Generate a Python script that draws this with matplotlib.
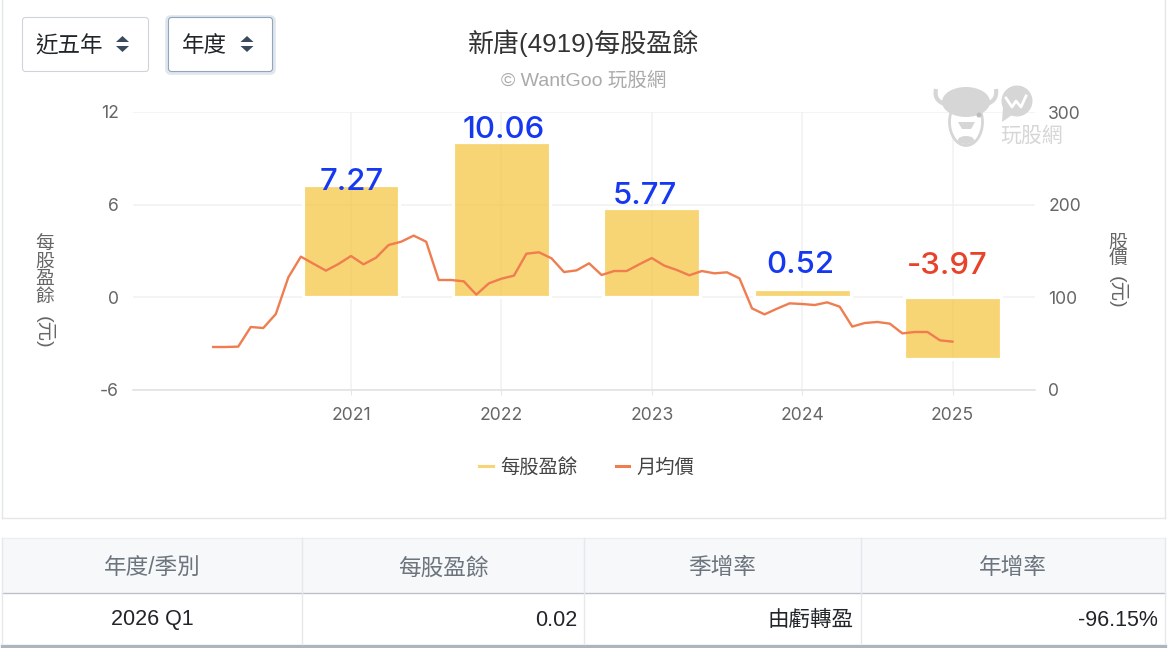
import matplotlib
matplotlib.use("Agg")
import matplotlib.pyplot as plt
import numpy as np
from matplotlib.lines import Line2D
from matplotlib.patches import Rectangle, FancyBboxPatch, Ellipse, Circle, Polygon, PathPatch
from matplotlib.path import Path

plt.rcParams['font.family'] = ['Liberation Sans', 'Noto Sans CJK TC', 'DejaVu Sans']
plt.rcParams['axes.unicode_minus'] = False
NUM_FONT = ['Inter', 'Liberation Sans', 'DejaVu Sans']

years = [2021, 2022, 2023, 2024, 2025]
eps = [7.27, 10.06, 5.77, 0.52, -3.97]
eps_labels = ['7.27', '10.06', '5.77', '0.52', '-3.97']
first_month = 2020 + 1 / 12
prices = [46.4, 46.4, 46.8, 68.0, 66.9, 82.0, 121.6, 143.9, 136.3, 128.8, 136.0, 144.6,
          135.6, 142.8, 156.5, 160.0, 166.6, 160.0, 118.7, 118.7, 117.3, 102.9, 115.1, 120.1,
          123.4, 147.1, 148.6, 142.1, 127.3, 129.1, 136.7, 124.1, 128.4, 128.4, 135.6, 142.4,
          134.2, 129.5, 123.8, 128.4, 125.9, 127.0, 120.5, 88.1, 81.6, 87.8, 93.5, 92.8,
          91.7, 94.6, 89.9, 68.4, 72.3, 73.4, 71.6, 61.1, 62.6, 62.6, 53.6, 52.2]
month_x = [first_month + i / 12 for i in range(len(prices))]

left_ticks = [-6, 0, 6, 12]
right_ticks = [0, 100, 200, 300]

table_headers = ['年度/季別', '每股盈餘', '季增率', '年增率']
table_row = ['2026 Q1', '0.02', '由虧轉盈', '-96.15%']

W, H = 1172, 648
BAR = '#f5c747'
LINE = '#ef7d50'
GRID = '#f1f1f1'
TICK = '#666666'

fig = plt.figure(figsize=(W / 100, H / 100), dpi=100, facecolor='white')

# page furniture, in pixel coordinates
bg = fig.add_axes([0, 0, 1, 1], zorder=0)
bg.set_xlim(0, W); bg.set_ylim(H, 0); bg.axis('off')
card = '#e4e6ea'
bg.plot([2, 2], [0, 518], color=card, lw=1)
bg.plot([1165, 1165], [0, 518], color=card, lw=1)
bg.plot([2, 1165], [518, 518], color=card, lw=1)

def box(x0, y0, x1, y1, ec, lw=0.8):
    bg.add_patch(FancyBboxPatch((x0 + 3, y0 + 3), x1 - x0 - 6, y1 - y0 - 6,
                                boxstyle='round,pad=3,rounding_size=3',
                                fc='white', ec=ec, lw=lw))

box(22.5, 17.5, 148.5, 71.5, '#ced4da')
bg.add_patch(FancyBboxPatch((169, 19), 103, 52, boxstyle='round,pad=2,rounding_size=4',
                            fc='none', ec='#e1e5ec', lw=2.6))
box(168.5, 17.5, 272.5, 71.5, '#8ea6c2')
for cx in (122.5, 247):
    bg.add_patch(Polygon([[cx - 6.5, 42], [cx + 6.5, 42], [cx, 36]], fc='#3b4a5c', ec='none'))
    bg.add_patch(Polygon([[cx - 6.5, 46], [cx + 6.5, 46], [cx, 52]], fc='#3b4a5c', ec='none'))
bg.text(35.5, 47, '近五年', fontsize=16.2, color='#212529', va='center')
bg.text(182, 47, '年度', fontsize=16.2, color='#212529', va='center')

bg.text(583, 43, '新唐(4919)每股盈餘', fontsize=18.7, color='#333333', ha='center', va='center')
bg.text(583.5, 81, '© WantGoo 玩股網', fontsize=14, color='#aaaaaa', ha='center', va='center')

bg.text(45, 271, '每\n股\n盈\n餘', fontsize=13.5, color=TICK, ha='center', va='center', linespacing=1.04)
bg.text(44.5, 332, '(元)', fontsize=14, color=TICK, ha='center', va='center', rotation=-90)
bg.text(1118, 252, '股\n價', fontsize=13.5, color=TICK, ha='center', va='center', linespacing=1.04)
bg.text(1117.5, 292.5, '(元)', fontsize=14, color=TICK, ha='center', va='center', rotation=-90)

# table
col_x = [2, 302, 584, 861, 1165]
bg.add_patch(Rectangle((2, 538), 1163, 54.5, fc='#f7f8fa', ec='none'))
bg.plot([2, 1165], [538, 538], color='#eceef1', lw=1)
bg.plot([2, 1165], [592.5, 592.5], color='#bcc1c9', lw=1)
bg.plot([2, 1165], [645.5, 645.5], color='#adb5bd', lw=2.4)
for cx in col_x:
    bg.plot([cx, cx], [538, 644], color='#e6e8eb', lw=1)
for i, (h, v) in enumerate(zip(table_headers, table_row)):
    bg.text((col_x[i] + col_x[i + 1]) / 2, 568, h, fontsize=16.3, color='#6c757d', ha='center', va='center')
    if i == 0:
        bg.text((col_x[0] + col_x[1]) / 2 + 0.5, 620, v, fontsize=15.5, color='#212529', ha='center', va='center')
    else:
        bg.text(col_x[i + 1] - 7, 620, v, fontsize=15.5, color='#212529', ha='right', va='center')

# chart
L, R, T, B = 133, 1035, 112, 390
ax = fig.add_axes([L / W, 1 - B / H, (R - L) / W, (B - T) / H], zorder=1)
ax.patch.set_alpha(0)
px_per_year = 150.375
ax.set_xlim(2021 - (351 - L) / px_per_year, 2025 + (R - 952.5) / px_per_year)
ax.set_ylim(left_ticks[0], left_ticks[-1])
ax.set_yticks(left_ticks)
ax.set_xticks(years)
ax.set_xticklabels([str(y) for y in years])
ax.grid(True, color=GRID, lw=1.1)
ax.set_axisbelow(True)
for s in ax.spines.values():
    s.set_visible(False)
ax.spines['bottom'].set_visible(True)
ax.spines['bottom'].set_color('#e0e0e0')
ax.spines['bottom'].set_linewidth(1.1)
ax.tick_params(axis='y', length=0, pad=10, labelsize=12.6, labelcolor=TICK)
ax.tick_params(axis='x', length=3.6, width=0.8, color='#e6e6e6', pad=8.5, labelsize=12.6, labelcolor=TICK)
for t in ax.get_xticklabels() + ax.get_yticklabels():
    t.set_family(NUM_FONT)

ax.bar(years, eps, width=0.645, color=matplotlib.colors.to_rgba(BAR, 0.75),
       edgecolor='white', linewidth=2.3, zorder=2)

label_offsets_px = [(0.5, -4.5), (2.5, 4), (-7, 4.5), (-2, 16), (-5, 85)]
for y, v, t, (ox, oy) in zip(years, eps, eps_labels, label_offsets_px):
    ax.annotate(t, (y, v), xytext=(ox * 0.72, oy * 0.72), textcoords='offset points',
                ha='center', va='baseline', fontsize=22.4, family=NUM_FONT, fontweight='medium',
                color='#e8432a' if v < 0 else '#1538f0', zorder=5)

ax2 = ax.twinx()
ax2.set_zorder(2)
ax2.patch.set_alpha(0)
ax2.set_ylim(right_ticks[0], right_ticks[-1])
ax2.set_yticks(right_ticks)
for s in ax2.spines.values():
    s.set_visible(False)
ax2.tick_params(axis='y', length=0, pad=9.5, labelsize=12.6, labelcolor=TICK)
for t in ax2.get_yticklabels():
    t.set_family(NUM_FONT)
ax2.plot(month_x, prices, color=LINE, lw=1.7, solid_joinstyle='round')

handles = [Line2D([], [], color='#f7d575', lw=2.2), Line2D([], [], color=LINE, lw=2.2)]
leg = fig.legend(handles, ['每股盈餘', '月均價'], loc='center', bbox_to_anchor=(587 / W, 1 - 467 / H),
                 ncol=2, frameon=False, fontsize=13.9, handlelength=0.68, handletextpad=0.4,
                 columnspacing=2.0, labelcolor='#444444')

# watermark
wm = fig.add_axes([0, 0, 1, 1], zorder=3)
wm.set_xlim(0, W); wm.set_ylim(H, 0); wm.axis('off'); wm.patch.set_alpha(0)
WM = '#d6d6d6'
wm.add_patch(PathPatch(Path([(936, 89), (933, 103), (950, 105)], [1, 3, 3]), fc='none', ec=WM, lw=3))
wm.add_patch(PathPatch(Path([(996, 89), (998, 103), (982, 105)], [1, 3, 3]), fc='none', ec=WM, lw=3))
wm.add_patch(Ellipse((966, 122), 33, 47, fc='white', ec=WM, lw=2))
wm.add_patch(Ellipse((966, 102), 48, 30, fc=WM, ec='none'))
wm.add_patch(Polygon([[958, 122], [975, 122], [971, 129], [962, 129]], fc=WM, ec='none'))
wm.add_patch(Ellipse((966, 140), 16, 8, fc=WM, ec='none'))
wm.add_patch(Circle((979, 115), 2.5, fc='#bdbdbd', ec='none'))
wm.add_patch(Circle((1017, 101), 15.5, fc=WM, ec='none'))
wm.add_patch(Polygon([[1003, 107], [1002, 122], [1012, 115]], fc=WM, ec='none'))
wm.plot([1006, 1012, 1016, 1021, 1026], [98, 107, 101, 107, 96], color='white', lw=2)
wm.text(1032, 136, '玩股網', fontsize=15, color='#d6d6d6', ha='center', va='center')

fig.savefig('out.png', dpi=100)
